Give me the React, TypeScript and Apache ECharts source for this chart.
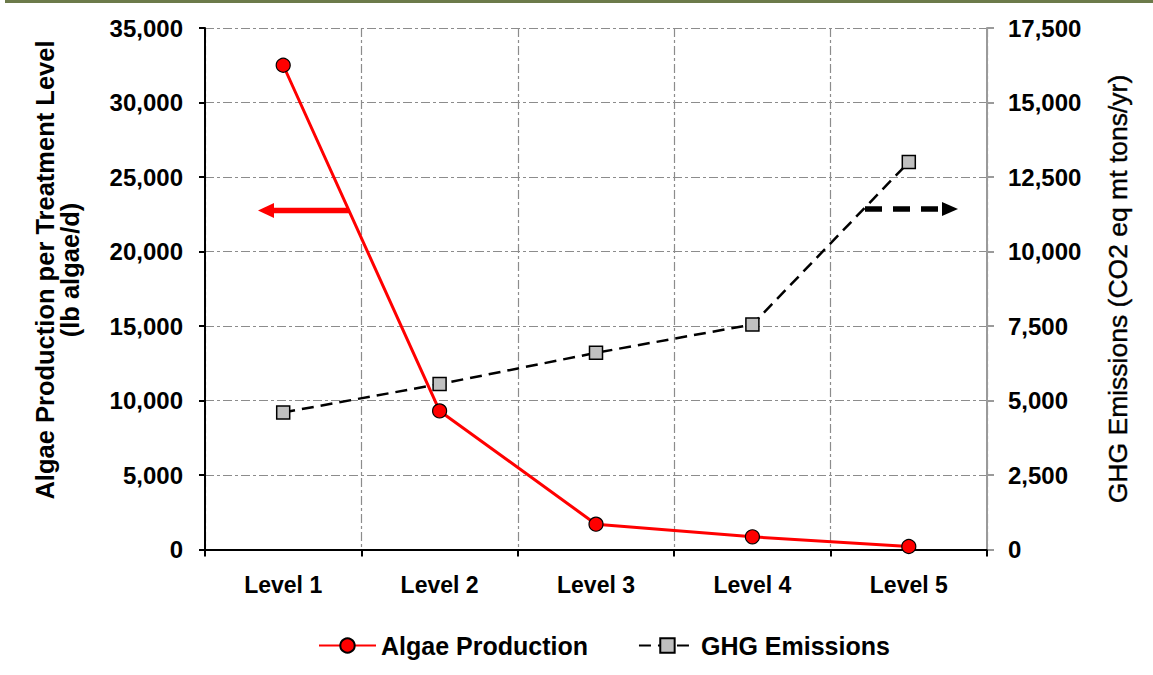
import React, { useEffect, useRef } from "react";
import * as echarts from "echarts";

const categories = ["Level 1", "Level 2", "Level 3", "Level 4", "Level 5"];
const algaeProduction = [32500, 9300, 1700, 850, 200];
const ghgEmissions = [4600, 5550, 6600, 7550, 13000];
const leftTicks = { min: 0, max: 35000, interval: 5000 };
const rightTicks = { min: 0, max: 17500, interval: 2500 };

const FONT = "'Liberation Sans', Arial, sans-serif";
const fmt = (v: number) => v.toLocaleString("en-US");

export default function App() {
  const ref = useRef<HTMLDivElement>(null);
  useEffect(() => {
    if (!ref.current) return;
    const chart = echarts.init(ref.current, null, { renderer: "svg" });
    const gridDash = [9, 3, 3, 3];
    chart.setOption({
      animation: false,
      backgroundColor: "#ffffff",
      grid: { left: 205, right: 166, top: 28, bottom: 125.5, containLabel: false },
      legend: {
        left: 313,
        top: 628,
        itemWidth: 57,
        itemHeight: 18,
        itemGap: 50,
        textStyle: { fontFamily: FONT, fontSize: 25, fontWeight: "bold", color: "#000" },
        data: ["Algae Production", "GHG Emissions"],
      },
      xAxis: [
        {
          type: "category",
          data: categories,
          boundaryGap: true,
          position: "bottom",
          axisLine: { lineStyle: { color: "#000", width: 2 } },
          axisTick: { show: true, length: 7, alignWithLabel: false, interval: 0, lineStyle: { color: "#000", width: 2 } },
          axisLabel: { margin: 24, fontFamily: FONT, fontSize: 23, fontWeight: "bold", color: "#000", interval: 0 },
          splitLine: { show: true, interval: 0, lineStyle: { color: "#8c8c8c", width: 1.2, type: gridDash } },
        },
        {
          type: "category",
          data: categories,
          position: "top",
          axisLine: { lineStyle: { color: "#000", width: 2 } },
          axisTick: { show: false },
          axisLabel: { show: false },
          splitLine: { show: false },
        },
      ],
      yAxis: [
        {
          type: "value",
          position: "left",
          ...leftTicks,
          axisLine: { show: true, lineStyle: { color: "#000", width: 2 } },
          axisTick: { show: true, length: 6, lineStyle: { color: "#000", width: 2 } },
          axisLabel: { margin: 22, fontFamily: FONT, fontSize: 24, fontWeight: "bold", color: "#000", formatter: fmt },
          splitLine: { show: true, lineStyle: { color: "#8c8c8c", width: 1.2, type: gridDash } },
        },
        {
          type: "value",
          position: "right",
          ...rightTicks,
          axisLine: { show: true, lineStyle: { color: "#9a9a9a", width: 2 } },
          axisTick: { show: true, length: 7, lineStyle: { color: "#9a9a9a", width: 2 } },
          axisLabel: { margin: 21, fontFamily: FONT, fontSize: 24, fontWeight: "bold", color: "#000", formatter: fmt },
          splitLine: { show: false },
        },
      ],
      series: [
        {
          name: "Algae Production",
          type: "line",
          xAxisIndex: 0,
          yAxisIndex: 0,
          data: algaeProduction,
          symbol: "circle",
          symbolSize: 14,
          lineStyle: { color: "#ff0000", width: 3 },
          itemStyle: { color: "#ff0000", borderColor: "#000", borderWidth: 1.2 },
          z: 5,
        },
        {
          name: "GHG Emissions",
          type: "line",
          xAxisIndex: 0,
          yAxisIndex: 1,
          data: ghgEmissions,
          symbol: "rect",
          symbolSize: 13,
          lineStyle: { color: "#000", width: 2.5, type: [12, 7] },
          itemStyle: { color: "#c0c0c0", borderColor: "#000", borderWidth: 1.5 },
          z: 4,
        },
      ],
      graphic: [
        { type: "rect", shape: { x: 5, y: 0, width: 1148, height: 3 }, style: { fill: "#6c7a4a" } },
        {
          type: "text",
          x: 57,
          y: 270,
          rotation: Math.PI / 2,
          style: {
            text: "Algae Production per Treatment Level\n(lb algae/d)",
            fontFamily: FONT,
            fontSize: 25.5,
            fontWeight: "bold",
            lineHeight: 25,
            fill: "#000",
            align: "center",
            verticalAlign: "middle",
            textAlign: "center",
            textVerticalAlign: "middle",
          },
        },
        {
          type: "text",
          x: 1118,
          y: 289,
          rotation: Math.PI / 2,
          style: {
            text: "GHG Emissions (CO2 eq mt tons/yr)",
            fontFamily: FONT,
            fontSize: 26.5,
            fontWeight: "normal",
            fill: "#000",
            stroke: "#000",
            lineWidth: 0.4,
            align: "center",
            verticalAlign: "middle",
            textAlign: "center",
            textVerticalAlign: "middle",
          },
        },
        { type: "line", shape: { x1: 349, y1: 210.5, x2: 271, y2: 210.5 }, style: { stroke: "#ff0000", lineWidth: 5.5 } },
        { type: "polygon", shape: { points: [[258, 210.5], [274, 203], [274, 218]] }, style: { fill: "#ff0000" } },
        { type: "line", shape: { x1: 865, y1: 209, x2: 944, y2: 209 }, style: { stroke: "#000", lineWidth: 5.5, lineDash: [17, 11] } },
        { type: "polygon", shape: { points: [[958, 209], [942, 202], [942, 216]] }, style: { fill: "#000" } },
      ],
    });
    return () => chart.dispose();
  }, []);
  return <div ref={ref} style={{ position: "fixed", left: 0, top: 0, width: 1153, height: 675, background: "#fff" }} />;
}
